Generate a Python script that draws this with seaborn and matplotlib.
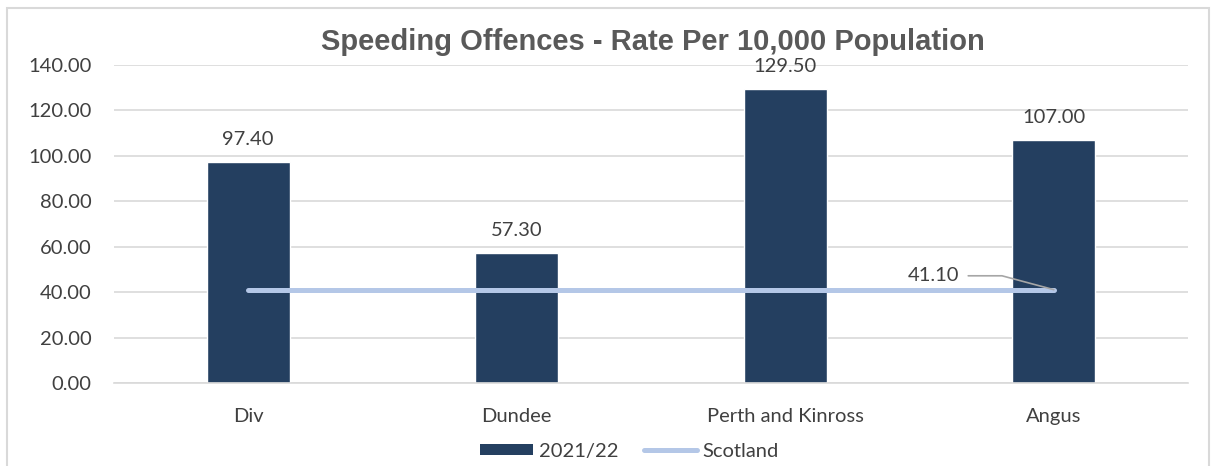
import matplotlib
matplotlib.use("Agg")
import matplotlib.pyplot as plt
import seaborn as sns
from matplotlib.patches import Rectangle
from matplotlib.lines import Line2D
from matplotlib.patches import Patch

categories = ["Div", "Dundee", "Perth and Kinross", "Angus"]
rate_2021 = [97.40, 57.30, 129.50, 107.00]
scotland = [41.10, 41.10, 41.10, 41.10]
yticks = [0, 20, 40, 60, 80, 100, 120, 140]

bar_color = "#243F60"
line_color = "#B4C7E7"
text_color = "#404040"
grid_color = "#D9D9D9"

sns.set_theme(style="white")
plt.rcParams["font.family"] = ["Lato", "DejaVu Sans"]

fig = plt.figure(figsize=(12.11, 4.66), dpi=100)
ax = fig.add_axes([0.0941, 0.178, 0.887, 0.6825])

# chart border
fig.patches.append(Rectangle((7 / 1211, -0.1), 1202 / 1211, 1 - 8 / 466 + 0.1,
                             transform=fig.transFigure, fill=False,
                             edgecolor=grid_color, linewidth=1.5))

sns.barplot(x=categories, y=rate_2021, color=bar_color, width=0.31,
            saturation=1, ax=ax, zorder=2)
sns.lineplot(x=categories, y=scotland, color=line_color, linewidth=3.6,
             ax=ax, zorder=3, solid_capstyle="round")

ax.set_ylim(0, 140)
ax.set_xlim(-0.5, 3.5)
ax.set_yticks(yticks)
ax.set_yticklabels([f"{v:.2f}" for v in yticks])
ax.yaxis.grid(True, color=grid_color, linewidth=1.2, zorder=0)
ax.set_axisbelow(True)
for s in ["top", "right", "left"]:
    ax.spines[s].set_visible(False)
ax.spines["bottom"].set_color(grid_color)
ax.spines["bottom"].set_linewidth(1.2)
ax.tick_params(axis="y", length=0, pad=16, labelsize=14.5, labelcolor=text_color)
ax.tick_params(axis="x", length=0, pad=18, labelsize=14.5, labelcolor=text_color)

# data labels
for i, v in enumerate(rate_2021):
    ax.annotate(f"{v:.2f}", (i, v), xytext=(0, 16), textcoords="offset points",
                ha="center", va="center", fontsize=14.5, color=text_color)

# Scotland label with leader line
ax.annotate(f"{scotland[-1]:.2f}", (3, scotland[-1]), xytext=(-68, 10),
            textcoords="offset points", ha="right", va="center",
            fontsize=14.5, color=text_color,
            arrowprops=dict(arrowstyle="-", color="#A6A6A6", lw=1.2,
                            connectionstyle="angle,angleA=0,angleB=-15,rad=0",
                            shrinkA=4, shrinkB=0))

fig.text(0.539, 0.91, "Speeding Offences - Rate Per 10,000 Population",
         ha="center", va="center", fontsize=21, fontweight="bold",
         color="#595959", family=["Liberation Sans", "DejaVu Sans"])

handles = [Patch(facecolor=bar_color, edgecolor="none"),
           Line2D([0], [0], color=line_color, linewidth=3.6)]
fig.legend(handles, ["2021/22", "Scotland"], loc="center",
           bbox_to_anchor=(0.52, 0.032), ncol=2, frameon=False,
           fontsize=14.5, labelcolor=text_color, handlelength=2.6,
           handletextpad=0.3, columnspacing=1.3, handleheight=0.5)

fig.savefig("out.png", dpi=100)
